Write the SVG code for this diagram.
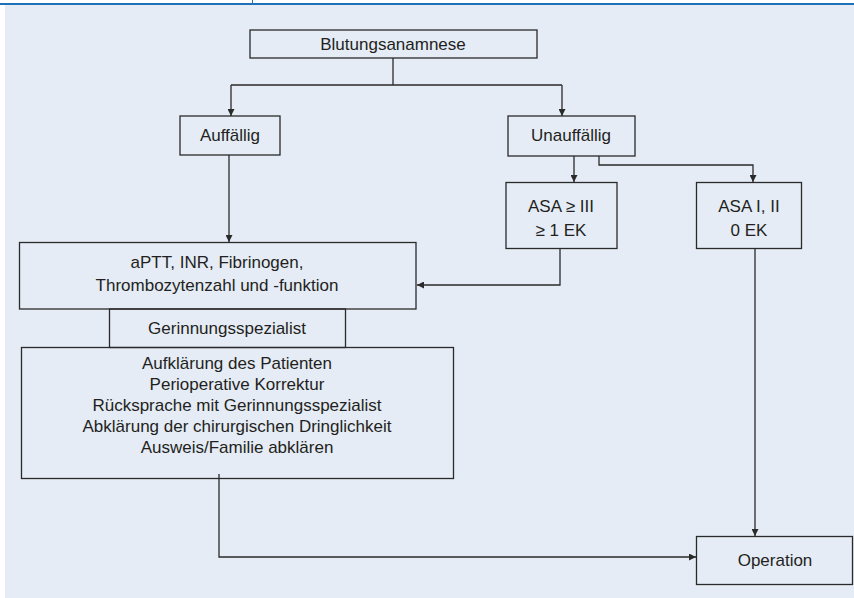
<svg xmlns="http://www.w3.org/2000/svg" width="854" height="598" viewBox="0 0 854 598">
<defs>
<style>
.box{fill:none;stroke:#2b2a2a;stroke-width:1.3}
.lbl{font-family:"Liberation Sans",Arial,sans-serif;font-size:17px;fill:#231f20;text-anchor:middle}
.con{fill:none;stroke:#2b2a2a;stroke-width:1.3}
</style>
<marker id="ah" viewBox="0 0 10 10" refX="10" refY="5" markerWidth="7" markerHeight="7" markerUnits="userSpaceOnUse" orient="auto">
<path d="M0,0 L10,5 L0,10 Z" fill="#2b2a2a"/>
</marker>
</defs>
<rect x="0" y="0" width="854" height="598" fill="#ffffff"/>
<rect x="5" y="5" width="849" height="593" fill="#e5ecf6"/>
<rect x="0" y="3" width="854" height="2" fill="#1e70b8"/>
<line x1="252.5" y1="0" x2="252.5" y2="4" stroke="#1e70b8" stroke-width="1"/>

<g id="connectors">
<path class="con" d="M393,58 V85"/>
<path class="con" d="M231,85 H562"/>
<path class="con" d="M231,85 V116" marker-end="url(#ah)"/>
<path class="con" d="M562,85 V116" marker-end="url(#ah)"/>
<path class="con" d="M229,155 V242" marker-end="url(#ah)"/>
<path class="con" d="M574,156 V182" marker-end="url(#ah)"/>
<path class="con" d="M599,156 V165 H753 V182" marker-end="url(#ah)"/>
<path class="con" d="M560,249 V285 H417" marker-end="url(#ah)"/>
<path class="con" d="M755,249 V536" marker-end="url(#ah)"/>
<path class="con" d="M219,474 V557 H696" marker-end="url(#ah)"/>
</g>

<g id="blutungsanamnese">
<rect class="box" x="250" y="30" width="287" height="28"/>
<text class="lbl" x="393" y="50">Blutungsanamnese</text>
</g>
<g id="auffaellig">
<rect class="box" x="180" y="116" width="100" height="39"/>
<text class="lbl" x="230" y="141">Auffällig</text>
</g>
<g id="unauffaellig">
<rect class="box" x="508" y="116" width="127" height="40"/>
<text class="lbl" x="571" y="141">Unauffällig</text>
</g>
<g id="asa3">
<rect class="box" x="506" y="182.5" width="111" height="66"/>
<text class="lbl" x="561" y="212">ASA ≥ III</text>
<text class="lbl" x="561" y="236">≥ 1 EK</text>
</g>
<g id="asa12">
<rect class="box" x="696.5" y="182.5" width="105" height="66"/>
<text class="lbl" x="749" y="212">ASA I, II</text>
<text class="lbl" x="749" y="236">0 EK</text>
</g>
<g id="labor">
<rect class="box" x="19.5" y="242.5" width="396.5" height="66.5"/>
<text class="lbl" x="217" y="268">aPTT, INR, Fibrinogen,</text>
<text class="lbl" x="217" y="291">Thrombozytenzahl und -funktion</text>
</g>
<g id="gerinnungsspezialist">
<rect class="box" x="109.5" y="309" width="236" height="38.5"/>
<text class="lbl" x="227" y="334">Gerinnungsspezialist</text>
</g>
<g id="massnahmen">
<rect class="box" x="21.5" y="347.5" width="432" height="131"/>
<text class="lbl" x="237" y="369">Aufklärung des Patienten</text>
<text class="lbl" x="237" y="390">Perioperative Korrektur</text>
<text class="lbl" x="237" y="411">Rücksprache mit Gerinnungsspezialist</text>
<text class="lbl" x="237" y="432">Abklärung der chirurgischen Dringlichkeit</text>
<text class="lbl" x="237" y="453">Ausweis/Familie abklären</text>
</g>
<g id="operation">
<rect class="box" x="696.5" y="536.5" width="156" height="48"/>
<text class="lbl" x="775" y="566">Operation</text>
</g>
</svg>
